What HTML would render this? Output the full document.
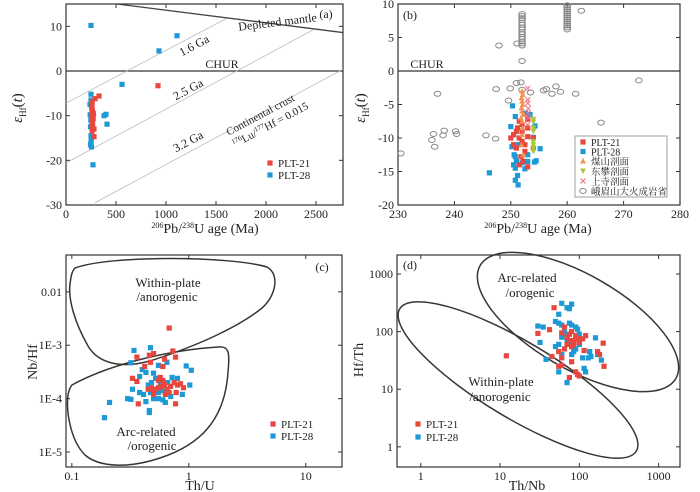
<!DOCTYPE html>
<html><head><meta charset="utf-8"><style>
html,body{margin:0;padding:0;background:#fff;}
svg{display:block;font-family:"Liberation Serif","Noto Serif CJK SC","Noto Sans CJK SC",serif;}
</style></head><body>
<svg id="fig" width="700" height="492" viewBox="0 0 700 492" xmlns="http://www.w3.org/2000/svg">
<g id="layer"></g>
</svg>
<script>
// ---------- Panel (a) data ----------
const aRedAge = [920,330,290,262,258,262,260,264,262,266,260,268,262,280,280,272,264,258];
const aRedEps = [-3.3,-5.6,-6.2,-7,-7.8,-8.6,-9.4,-10.2,-11,-11.6,-12.2,-12.8,-13.4,-14.7,-13,-10.6,-9,-8.2];
const aBlueAge = [250,930,1110,560,250,380,400,410,270,250,240,242,245,250,245,255,250,275,248,252];
const aBlueEps = [10.2,4.5,7.9,-3,-5.2,-10,-9.7,-11.9,-21,-6.5,-7.5,-9.8,-12.5,-14.5,-16.5,-17,-16,-9.5,-11,-15.5];
const aXTicks = [0,500,1000,1500,2000,2500];
const aYTicks = [-30,-20,-10,0,10];
// ---------- Panel (b) data ----------
const bRedAge = [251.5,252,253,250.5,251,251.5,252,250,250.5,251,252.5,253,252,251.8,252.2,251.5,253,254,254,252.5,253,251.2];
const bRedEps = [-7.5,-8,-7.2,-9.5,-9,-10,-10.5,-10,-11,-11.5,-12,-8.5,-9,-12.8,-13.5,-14,-14.3,-11.5,-10,-11,-9.8,-8.5];
const bBlueAge = [250.3,250.8,250,250.5,250.2,250.6,250.8,251,250.5,250.8,251.2,250.8,251.3,246.2,252,253,254.2,254.5,255.2,254.3,253.4,252.6,254,252.5,251.4,253];
const bBlueEps = [-5.2,-6.8,-8.3,-9.5,-11.3,-12.5,-12.8,-13.5,-14,-14.5,-15.6,-16.3,-17,-15.2,-13.7,-13.5,-13.6,-13.4,-11.6,-8.2,-6.5,-6.3,-9.9,-14.6,-11,-12.5];
const bMeishanAge = [252,252.1,251.9,252,252.1,251.9,252,252.2,251.8,252,252.1,252,251.9,252.2];
const bMeishanEps = [-3,-3.5,-4,-4.5,-5,-5.5,-6,-6.5,-7,-7.5,-8.5,-9.5,-11,-12.5];
const bDongpanAge = [254,254,254,254,254,254,254,254];
const bDongpanEps = [-7.2,-7.6,-8.5,-9,-10.5,-11,-11.5,-12];
const bShangsiAge = [253,253,253,253.1,253,253.1,253];
const bShangsiEps = [-2.6,-4.3,-4.8,-5.6,-6.3,-7,-8];
const bEmeiAge = [230.5,236,236.5,236.3,237,238,238.2,240.2,240.4,245.6,247.3,247.4,247.9,249.6,249.9,251,251.1,251.8,252,252,252,252,252,252,252,252,252,252,252,252,252,252,252,252,252,253.5,255.8,256.3,257.3,258,258.8,261.5,262.5,260,260,260,260,260,260,260,260,260,260,260,260,260,266,272.7];
const bEmeiEps = [-12.3,-10.3,-11.3,-9.4,-3.4,-9.6,-8.9,-9,-9.4,-9.6,-10.1,-2.7,3.8,-4.4,-2.6,-1.8,4.1,-1.7,-2.8,1.5,3.8,4.1,4.4,4.8,5.1,5.5,5.8,6.2,6.5,6.9,7.2,7.6,7.9,8.2,8.5,-3.2,-2.9,-2.7,-3.4,-2.3,-3.1,-3.4,9,6.2,6.5,6.8,7.1,7.4,7.7,8,8.3,8.6,8.9,9.2,9.5,9.8,-7.7,-1.4];
const bXTicks = [230,240,250,260,270,280];
const bYTicks = [-20,-15,-10,-5,0,5,10];
// ---------- Panel (c) data ----------
const cRedThU = [0.68,0.36,0.46,0.5,0.73,0.62,0.77,0.47,0.6,0.42,0.33,0.36,0.55,0.57,0.6,0.48,0.5,0.52,0.55,0.58,0.62,0.65,0.7,0.75,0.8,0.85,0.9,0.78,0.63,0.5,0.37,0.77,0.68,0.45];
const cRedNbHf = [2.1e-3,6e-4,6.5e-4,7e-4,7.8e-4,5.5e-4,6e-4,4.8e-4,4e-4,4e-4,2.4e-4,2.1e-4,2.2e-4,2.5e-4,2.2e-4,1.6e-4,1.4e-4,1.5e-4,1.6e-4,1.7e-4,1.8e-4,1.5e-4,1.7e-4,2e-4,1.8e-4,1.9e-4,1.6e-4,1.3e-4,1.2e-4,1.2e-4,8e-5,8e-5,1.3e-4,1.5e-4];
const cBlueThU = [0.34,0.47,0.32,0.4,0.43,0.38,0.5,0.55,0.65,0.95,1.05,0.72,0.8,0.33,0.38,0.41,0.3,0.32,0.43,0.21,0.19,0.46,0.46,0.5,0.55,0.6,0.63,0.7,0.88,1.02,0.45,0.48,0.52,0.57,0.6,0.66,0.47,0.55];
const cBlueNbHf = [8e-4,9e-4,4.7e-4,3.5e-4,3.1e-4,2.6e-4,3e-4,4.2e-4,4.8e-4,4.1e-4,3.4e-4,2.5e-4,2.4e-4,1.5e-4,1.3e-4,1.2e-4,1e-4,9.7e-5,8.8e-5,8.5e-5,4.4e-5,5.5e-5,6e-5,1e-4,1e-4,9.5e-5,8.5e-5,1.1e-4,1.2e-4,1.8e-4,1.8e-4,2e-4,2.4e-4,1.9e-4,1.4e-4,2e-4,1.3e-4,1.3e-4];
const cXTicks = [0.1,1,10];
const cXTickLabels = ["0.1","1","10"];
const cYTicks = [1e-5,1e-4,1e-3,1e-2];
const cYTickLabels = ["1E-5","1E-4","1E-3","0.01"];
// ---------- Panel (d) data ----------
const dRedThNb = [12,48,42,30,60,65,70,75,80,85,90,95,100,70,80,65,55,45,60,55,60,80,90,95,100,75,115,120,110,170,180,200,205,85,75];
const dRedHfTh = [38,260,108,93,95,120,80,90,100,70,85,75,65,60,55,50,45,37,35,25,26,30,20,18,17,16,47,85,75,45,40,63,25,60,70];
const dBlueThNb = [60,80,70,75,55,30,35,50,55,60,65,75,80,90,95,100,60,70,80,55,50,32,38,55,60,70,80,90,110,120,115,135,130,160,170,190,100,65,85,140];
const dBlueHfTh = [310,300,260,250,200,125,120,150,140,130,110,140,130,120,110,90,80,70,65,60,55,65,33,20,40,13,40,50,35,20,23,45,35,78,40,32,60,90,45,37];
const dXTicks = [1,10,100,1000];
const dXTickLabels = ["1","10","100","1000"];
const dYTicks = [1,10,100,1000];
const dYTickLabels = ["1","10","100","1000"];

const RED="#e8473f", BLUE="#1d9ad6", ORANGE="#f39150", GREEN="#a9c93c", PINK="#f07585", GRAY="#888";
const NS="http://www.w3.org/2000/svg";
const layer=document.getElementById('layer');
function el(tag, parent){const e=document.createElementNS(NS,tag);(parent||layer).appendChild(e);return e;}
function set(e,o){for(const k in o)e.setAttribute(k,o[k]);return e;}

function linScale(d0,d1,r0,r1){return v=>r0+(v-d0)/(d1-d0)*(r1-r0);}
function logScale(d0,d1,r0,r1){return v=>r0+(Math.log10(v)-d0)/(d1-d0)*(r1-r0);}

const P={
 a:{x0:66,x1:343,y0:4,y1:205},
 b:{x0:398,x1:680,y0:4,y1:205},
 c:{x0:66,x1:342,y0:255,y1:467},
 d:{x0:397,x1:680,y0:255,y1:467}
};
const ax={
 a:{x:linScale(0,2770,66,343), y:linScale(15,-30,4,205)},
 b:{x:linScale(230,280,398,680), y:linScale(10,-20,4,205)},
 c:{x:logScale(-1.05,1.31,66,342), y:logScale(-1.31,-5.28,255,467)},
 d:{x:logScale(-0.3,3.27,397,680), y:logScale(3.33,-0.35,255,467)}
};

function text(str,x,y,opts){
 const t=el('text');
 set(t,{x:x,y:y,'font-size':opts.size||12,'text-anchor':opts.anchor||'middle',fill:opts.fill||'#222'});
 if(opts.rot!==undefined) t.setAttribute('transform','rotate('+opts.rot+' '+x+' '+y+')');
 if(opts.html) t.innerHTML=str; else t.textContent=str;
 
 
 return t;
}

for(const k in P){
 const p=P[k];
 const r=el('rect');
 set(r,{x:p.x0,y:p.y0,width:p.x1-p.x0,height:p.y1-p.y0,fill:'none',stroke:'#333','stroke-width':1.2});
 
 
}

function ticksX(k,vals,labels){
 const p=P[k],s=ax[k].x;
 vals.forEach((v,i)=>{
  const X=s(v);
  const t=el('line');set(t,{x1:X,x2:X,y1:p.y1,y2:p.y1-4,stroke:'#333'});
  
  
  const t2=el('line');set(t2,{x1:X,x2:X,y1:p.y0,y2:p.y0+4,stroke:'#333'});
  
  
  text(labels?labels[i]:String(v),X,p.y1+13,{size:12,name:'x-tick-label'});
 });
}
function ticksY(k,vals,labels){
 const p=P[k],s=ax[k].y;
 vals.forEach((v,i)=>{
  const Y=s(v);
  const t=el('line');set(t,{x1:p.x0,x2:p.x0+4,y1:Y,y2:Y,stroke:'#333'});
  
  
  const t2=el('line');set(t2,{x1:p.x1,x2:p.x1-4,y1:Y,y2:Y,stroke:'#333'});
  
  
  text(labels?labels[i]:String(v),p.x0-4,Y+4,{size:12,anchor:'end',name:'y-tick-label'});
 });
}
ticksX('a',aXTicks);ticksY('a',aYTicks);
ticksX('b',bXTicks);ticksY('b',bYTicks);
ticksX('c',cXTicks,cXTickLabels);ticksY('c',cYTicks,cYTickLabels);
ticksX('d',dXTicks,dXTickLabels);ticksY('d',dYTicks,dYTickLabels);

const defs=el('defs');
for(const k of ['a','b']){
 const cp=el('clipPath',defs);cp.setAttribute('id','clip-'+k);
 const r=el('rect',cp);set(r,{x:P[k].x0,y:P[k].y0,width:P[k].x1-P[k].x0,height:P[k].y1-P[k].y0});
}

function line(k,x1,y1,x2,y2,style,name){
 const l=el('line');
 set(l,{x1:ax[k].x(x1),y1:ax[k].y(y1),x2:ax[k].x(x2),y2:ax[k].y(y2),'clip-path':'url(#clip-'+k+')'});
 set(l,style);
 
 
}
line('a',0,0,2770,0,{stroke:'#333','stroke-width':1.2},'chur-line');
line('a',510,15,2770,8.6,{stroke:'#444','stroke-width':1.3},'depleted-mantle-line');
line('a',0,-7.2,1600,11.7,{stroke:'#bbb','stroke-width':0.8},'crust-1-6ga-line');
line('a',0,-20.6,2470,9.2,{stroke:'#bbb','stroke-width':0.8},'crust-2-5ga-line');
line('a',290,-29.5,2770,0.4,{stroke:'#bbb','stroke-width':0.8},'crust-3-2ga-line');
line('b',230,0,280,0,{stroke:'#333','stroke-width':1.2},'chur-line-b');

text('Depleted mantle',278,26,{size:12,rot:-7,name:'depleted-mantle-label'});
text('1.6 Ga',196,49,{size:12,rot:-28,name:'label-1-6ga'});
text('2.5 Ga',190,93,{size:12,rot:-28,name:'label-2-5ga'});
text('3.2 Ga',190,145,{size:12,rot:-28,name:'label-3-2ga'});
text('Continental crust',262,118,{size:11,rot:-28,name:'continental-crust-label'});
text('<tspan font-size="7" dy="-4">176</tspan><tspan dy="4">Lu/</tspan><tspan font-size="7" dy="-4">177</tspan><tspan dy="4">Hf = 0.015</tspan>',272,128,{size:11,rot:-28,html:true,name:'lu-hf-ratio-label'});
text('CHUR',222,68,{size:12,name:'chur-label'});
text('(a)',326,18,{size:12,name:'panel-a-label'});
text('CHUR',427,68,{size:12,name:'chur-label-b'});
text('(b)',410,19,{size:12,name:'panel-b-label'});
text('(c)',322,271,{size:12,name:'panel-c-label'});
text('(d)',410,269,{size:12,name:'panel-d-label'});

const agetitle='<tspan font-size="8" dy="-5">206</tspan><tspan dy="5">Pb/</tspan><tspan font-size="8" dy="-5">238</tspan><tspan dy="5">U age (Ma)</tspan>';
text(agetitle,205,233,{size:14,html:true,name:'x-axis-title-a'});
text(agetitle,538,233,{size:14,html:true,name:'x-axis-title-b'});
const epstitle='<tspan font-style="italic">ε</tspan><tspan font-size="9" dy="4">Hf</tspan><tspan dy="-4">(</tspan><tspan font-style="italic">t</tspan><tspan>)</tspan>';
text(epstitle,22,108,{size:15,rot:-90,html:true,name:'y-axis-title-a'});
text(epstitle,365,108,{size:15,rot:-90,html:true,name:'y-axis-title-b'});
text('Th/U',200,490,{size:14,name:'x-axis-title-c'});
text('Nb/Hf',37,362,{size:14,rot:-90,name:'y-axis-title-c'});
text('Th/Nb',527,490,{size:14,name:'x-axis-title-d'});
text('Hf/Th',363,360,{size:14,rot:-90,name:'y-axis-title-d'});

function field(d,name){
 const p=el('path');set(p,{d:d,fill:'none',stroke:'#3a3530','stroke-width':1.5});
 
 
}
field('M75,268 C110,255 230,256 267,267 C280,274 276,296 262,308 C240,326 200,345 150,361 C120,369 98,363 88,346 C75,323 68,300 70,284 C71,276 72,271 75,268 Z','within-plate-field-c');
field('M72,385 C110,364 170,350 218,347 C229,346 230,352 228,372 C225,420 200,445 160,458 C130,468 100,468 85,455 C70,440 66,410 68,395 C69,390 70,387 72,385 Z','arc-related-field-c');
const e1=el('ellipse');set(e1,{cx:578,cy:322,rx:113,ry:47,transform:'rotate(30 578 322)',fill:'none',stroke:'#3a3530','stroke-width':1.5});


const e2=el('ellipse');set(e2,{cx:518,cy:380,rx:138,ry:38,transform:'rotate(31 518 380)',fill:'none',stroke:'#3a3530','stroke-width':1.5});


text('Within-plate',168,287,{size:13,name:'within-plate-label-c'});
text('/anorogenic',167,301,{size:13,name:'anorogenic-label-c'});
text('Arc-related',146,436,{size:13,name:'arc-related-label-c'});
text('/orogenic',152,450,{size:13,name:'orogenic-label-c'});
text('Arc-related',527,282,{size:13,name:'arc-related-label-d'});
text('/orogenic',530,297,{size:13,name:'orogenic-label-d'});
text('Within-plate',501,386,{size:13,name:'within-plate-label-d'});
text('/anorogenic',500,401,{size:13,name:'anorogenic-label-d'});

function marker(type,X,Y,color,name){
 let m;
 if(type==='sq'){m=el('rect');set(m,{x:X-2.6,y:Y-2.6,width:5.2,height:5.2,fill:color});}
 else if(type==='tri'){m=el('path');set(m,{d:'M'+X+','+(Y-3)+' L'+(X+3)+','+(Y+2.5)+' L'+(X-3)+','+(Y+2.5)+'Z',fill:color});}
 else if(type==='dtri'){m=el('path');set(m,{d:'M'+X+','+(Y+3)+' L'+(X+3)+','+(Y-2.5)+' L'+(X-3)+','+(Y-2.5)+'Z',fill:color});}
 else if(type==='x'){m=el('path');set(m,{d:'M'+(X-2.5)+','+(Y-2.5)+' L'+(X+2.5)+','+(Y+2.5)+' M'+(X+2.5)+','+(Y-2.5)+' L'+(X-2.5)+','+(Y+2.5),stroke:color,'stroke-width':1.1,fill:'none'});}
 else {m=el('ellipse');set(m,{cx:X,cy:Y,rx:3.3,ry:2.5,fill:'none',stroke:color,'stroke-width':1});}
 
 
 return m;
}
function series(k,xs,ys,type,color,name){
 xs.forEach((v,i)=>marker(type,ax[k].x(v),ax[k].y(ys[i]),color,name));
}
series('a',aBlueAge,aBlueEps,'sq',BLUE,'point-plt-28');
series('a',aRedAge,aRedEps,'sq',RED,'point-plt-21');
series('b',bEmeiAge,bEmeiEps,'o',GRAY,'point-emeishan-lip');
series('b',bBlueAge,bBlueEps,'sq',BLUE,'point-plt-28');
series('b',bRedAge,bRedEps,'sq',RED,'point-plt-21');
series('b',bMeishanAge,bMeishanEps,'tri',ORANGE,'point-meishan-section');
series('b',bDongpanAge,bDongpanEps,'dtri',GREEN,'point-dongpan-section');
series('b',bShangsiAge,bShangsiEps,'x',PINK,'point-shangsi-section');
series('c',cBlueThU,cBlueNbHf,'sq',BLUE,'point-plt-28');
series('c',cRedThU,cRedNbHf,'sq',RED,'point-plt-21');
series('d',dBlueThNb,dBlueHfTh,'sq',BLUE,'point-plt-28');
series('d',dRedThNb,dRedHfTh,'sq',RED,'point-plt-21');

function legendEntry(type,color,x,y,label,name,size){
 marker(type,x,y,color,name+'-marker');
 text(label,x+8,y+4,{size:size||11,anchor:'start',name:name});
}
legendEntry('sq',RED,270,163,'PLT-21','legend-entry-plt-21-a');
legendEntry('sq',BLUE,270,175,'PLT-28','legend-entry-plt-28-a');
const lb=el('rect');set(lb,{x:575,y:136,width:92,height:61,fill:'#fff',stroke:'#888','stroke-width':0.8});


legendEntry('sq',RED,583,142,'PLT-21','legend-entry-plt-21-b',10);
legendEntry('sq',BLUE,583,151.5,'PLT-28','legend-entry-plt-28-b',10);
legendEntry('tri',ORANGE,583,161,'煤山剖面','legend-entry-meishan',9.5);
legendEntry('dtri',GREEN,583,171,'东攀剖面','legend-entry-dongpan',9.5);
legendEntry('x',PINK,583,181,'上寺剖面','legend-entry-shangsi',9.5);
legendEntry('o',GRAY,583,191,'峨眉山大火成岩省','legend-entry-emeishan',9.5);
legendEntry('sq',RED,273,424,'PLT-21','legend-entry-plt-21-c');
legendEntry('sq',BLUE,273,436,'PLT-28','legend-entry-plt-28-c');
legendEntry('sq',RED,418,424,'PLT-21','legend-entry-plt-21-d');
legendEntry('sq',BLUE,418,437,'PLT-28','legend-entry-plt-28-d');
</script>
</body></html>
